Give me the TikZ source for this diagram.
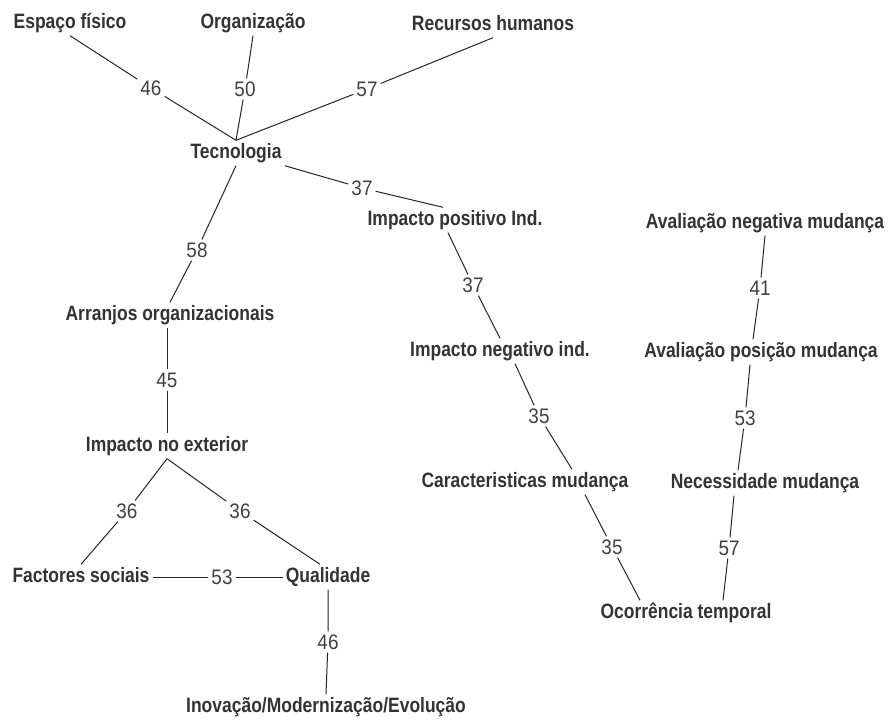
\documentclass[tikz,border=0pt]{standalone}
\usepackage{fontspec}
\setmainfont{Liberation Sans}
\newfontfamily\conceptfont[FakeStretch=0.84]{Liberation Sans}
\newfontfamily\weightfont[FakeStretch=0.9]{Liberation Sans}
\usepackage{tikz}

\begin{document}
\begin{tikzpicture}[x=1pt, y=-1pt,
    concept/.style={font=\conceptfont\bfseries\fontsize{20.8}{22}\selectfont, text=black!80,
      inner sep=3pt, text height=15pt, text depth=4pt},
    weight/.style={font=\weightfont\fontsize{21}{22}\selectfont, text=black!75, inner sep=3pt}]
      \useasboundingbox (0,0) rectangle (890,719);
      \node [concept] (esp) at (70,23) {Espaço físico};
      \node [concept] (org) at (253,23) {Organização};
      \node [concept] (rec) at (493,25) {Recursos humanos};
      \node [concept] (tec) at (236,153) {Tecnologia};
      \node [concept] (impp) at (455,220) {Impacto positivo Ind.};
      \node [concept] (avn) at (765,223) {Avaliação negativa mudança};
      \node [concept] (arr) at (170,315) {Arranjos organizacionais};
      \node [concept] (impn) at (500,351) {Impacto negativo ind.};
      \node [concept] (avp) at (761,352) {Avaliação posição mudança};
      \node [concept] (ext) at (167,446) {Impacto no exterior};
      \node [concept] (car) at (525,482) {Caracteristicas mudança};
      \node [concept] (nec) at (765,483) {Necessidade mudança};
      \node [concept] (fac) at (81,577) {Factores sociais};
      \node [concept] (qua) at (328,577) {Qualidade};
      \node [concept] (oco) at (686,613) {Ocorrência temporal};
      \node [concept] (ino) at (326,707) {Inovação/Modernização/Evolução};
      \node [weight] (a46) at (151,88) {46};
      \node [weight] (a50) at (245,89) {50};
      \node [weight] (a57) at (367,89) {57};
      \node [weight] (a37) at (362,188) {37};
      \node [weight] (a58) at (197,250) {58};
      \node [weight] (a37b) at (473,285) {37};
      \node [weight] (a41) at (760,288) {41};
      \node [weight] (a45) at (167,380) {45};
      \node [weight] (a35) at (539,416) {35};
      \node [weight] (a53b) at (745,418) {53};
      \node [weight] (a36) at (127,511) {36};
      \node [weight] (a36b) at (240,511) {36};
      \node [weight] (a35b) at (612,547) {35};
      \node [weight] (a57b) at (729,548) {57};
      \node [weight] (a53) at (222,577) {53};
      \node [weight] (a46b) at (328,642) {46};
      \coordinate (impp-n) at ([xshift=-12pt]impp.north);
      \coordinate (impp-s) at ([xshift=-7pt]impp.south);
      \coordinate (impn-s) at ([xshift=15pt]impn.south);
      \coordinate (car-n) at ([xshift=47pt]car.north);
      \coordinate (car-s) at ([xshift=60pt]car.south);
      \coordinate (oco-nw) at ([xshift=-46pt]oco.north);
      \coordinate (oco-ne) at ([xshift=37pt]oco.north);
      \coordinate (avp-n) at ([xshift=-8pt]avp.north);
      \coordinate (avp-s) at ([xshift=-11pt]avp.south);
      \coordinate (nec-n) at ([xshift=-27pt]nec.north);
      \coordinate (nec-s) at ([xshift=-31pt]nec.south);
      \coordinate (arr-s) at ([xshift=-3pt]arr.south);
      \coordinate (qua-n) at ([xshift=-8pt]qua.north);
      \foreach \a/\w/\b in {esp.south/a46/tec.north, org.south/a50/tec.north,
          rec.south/a57/tec.north, tec.south east/a37/impp-n,
          tec.south/a58/arr.north, impp-s/a37b/impn.north,
          impn-s/a35/car-n, car-s/a35b/oco-nw,
          avn.south/a41/avp-n, avp-s/a53b/nec-n, nec-s/a57b/oco-ne,
          arr-s/a45/ext.north, ext.south/a36/fac.north,
          ext.south/a36b/qua-n, fac.east/a53/qua.west,
          qua.south/a46b/ino.north}{
        \draw [line width=1pt, black!85] (\a) -- (\w) -- (\b);
      }
    \end{tikzpicture}
\end{document}
